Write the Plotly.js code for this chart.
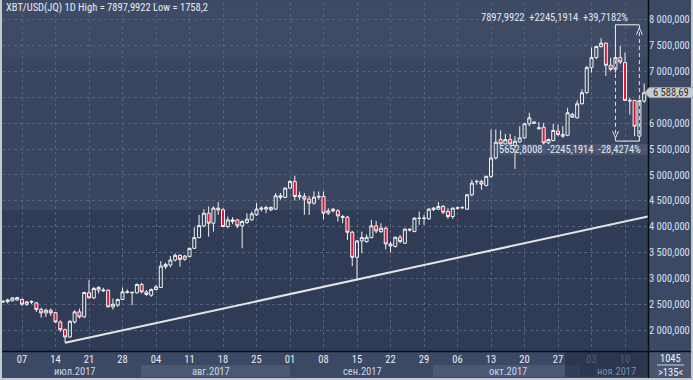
<!DOCTYPE html>
<html><head><meta charset="utf-8">
<script src="https://cdn.plot.ly/plotly-3.0.1.min.js"></script>
<style>html,body{margin:0;padding:0;background:#c4cad2;overflow:hidden}#chart{width:693px;height:380px}</style>
</head><body><div id="chart"></div>
<script>
const dates = [
'2017-07-03','2017-07-04','2017-07-05','2017-07-06','2017-07-07','2017-07-08','2017-07-09','2017-07-10','2017-07-11','2017-07-12','2017-07-13','2017-07-14','2017-07-15','2017-07-16','2017-07-17','2017-07-18','2017-07-19','2017-07-20','2017-07-21','2017-07-22','2017-07-23','2017-07-24','2017-07-25','2017-07-26','2017-07-27','2017-07-28','2017-07-29','2017-07-30','2017-07-31',
'2017-08-01','2017-08-02','2017-08-03','2017-08-04','2017-08-05','2017-08-06','2017-08-07','2017-08-08','2017-08-09','2017-08-10','2017-08-11','2017-08-12','2017-08-13','2017-08-14','2017-08-15','2017-08-16','2017-08-17','2017-08-18','2017-08-19','2017-08-20','2017-08-21','2017-08-22','2017-08-23','2017-08-24','2017-08-25','2017-08-26','2017-08-27','2017-08-28','2017-08-29','2017-08-30','2017-08-31',
'2017-09-01','2017-09-02','2017-09-03','2017-09-04','2017-09-05','2017-09-06','2017-09-07','2017-09-08','2017-09-09','2017-09-10','2017-09-11','2017-09-12','2017-09-13','2017-09-14','2017-09-15','2017-09-16','2017-09-17','2017-09-18','2017-09-19','2017-09-20','2017-09-21','2017-09-22','2017-09-23','2017-09-24','2017-09-25','2017-09-26','2017-09-27','2017-09-28','2017-09-29','2017-09-30',
'2017-10-01','2017-10-02','2017-10-03','2017-10-04','2017-10-05','2017-10-06','2017-10-07','2017-10-08','2017-10-09','2017-10-10','2017-10-11','2017-10-12','2017-10-13','2017-10-14','2017-10-15','2017-10-16','2017-10-17','2017-10-18','2017-10-19','2017-10-20','2017-10-21','2017-10-22','2017-10-23','2017-10-24','2017-10-25','2017-10-26','2017-10-27','2017-10-28','2017-10-29','2017-10-30','2017-10-31',
'2017-11-01','2017-11-02','2017-11-03','2017-11-04','2017-11-05','2017-11-06','2017-11-07','2017-11-08','2017-11-09','2017-11-10','2017-11-11','2017-11-12','2017-11-13','2017-11-14'];

const opens = [
2545,2552,2570,2585,2595,2503,2546,2529,2400,2336,2387,2342,2161,2013,1870,2161,2355,2258,2723,2626,2775,2760,2775,2452,2484,2594,2730,2723,2723,
2885,2742,2678,2788,2826,3227,3259,3356,3447,3369,3421,3582,3789,4015,4261,4067,4358,4326,4003,4100,4132,4016,4080,4132,4229,4339,4339,4371,4339,4565,4565,
4746,4874,4575,4584,4532,4455,4571,4584,4261,4339,4306,4196,4183,3893,3408,3725,3712,3789,4016,3906,3970,3667,3615,3796,3680,3951,3906,4164,4160,4151,
4330,4338,4390,4293,4196,4355,4365,4338,4616,4870,4874,4797,4972,5327,5682,5598,5682,5572,5637,5714,5986,6020,5890,5921,5618,5663,5844,5747,5766,6167,6102,
6373,6587,7071,7265,7478,7543,7116,7039,7265,7168,6438,6438,5747,6425];
const highs = [
2575,2610,2640,2645,2613,2568,2581,2549,2439,2420,2420,2355,2193,2032,2193,2387,2420,2742,2969,2839,2852,2820,2788,2613,2613,2826,2788,2742,2904,
2917,2775,2807,2872,3337,3304,3434,3485,3472,3453,3595,3989,4228,4338,4390,4390,4474,4358,4196,4183,4145,4132,4261,4293,4455,4390,4403,4390,4649,4649,4758,
4900,4985,4680,4649,4597,4680,4680,4680,4358,4358,4339,4229,4209,3919,3744,3906,3850,4132,4113,4067,4003,3712,3809,3841,3970,3970,4183,4293,4229,4358,
4380,4474,4420,4358,4370,4390,4400,4630,4906,4906,4906,4985,5876,5876,5857,5792,5792,5747,5940,6005,6199,6030,6020,6005,5701,5986,5973,5940,6296,6199,6438,
6651,7103,7459,7491,7640,7556,7265,7897.9922,7491,7362,6490,6438,6438,6767];
const lows = [
2530,2520,2560,2575,2471,2471,2503,2355,2245,2258,2277,2142,1967,1758.2,1857,2129,2226,2245,2613,2600,2710,2742,2445,2400,2452,2581,2710,2484,2710,
2710,2665,2646,2775,2820,3182,3214,3324,3227,3343,3408,3569,3776,3989,3808,3905,4228,3990,3970,4048,3970,3583,4054,4113,4209,4293,4261,4300,4326,4520,4552,
4730,4506,4520,4229,4229,4423,4520,4145,4229,4274,4100,4067,3744,3240,2980,3486,3690,3776,3874,3874,3563,3499,3602,3680,3667,3906,3893,4035,4035,4132,
4300,4325,4242,4151,4151,4326,4340,4326,4584,4810,4713,4778,4939,5295,5585,5585,5553,5114,5617,5701,5940,5990,5876,5585,5598,5650,5747,5714,5747,6102,6089,
6360,6567,6974,7233,7459,6910,7006,6974,7136,6425,6167,5747,5652.8008,6392];
const closes = [
2560,2585,2625,2632,2503,2549,2553,2400,2336,2387,2336,2161,2013,1870,2174,2355,2258,2730,2626,2807,2826,2775,2452,2503,2594,2742,2742,2732,2885,
2742,2691,2788,2839,3240,3272,3356,3447,3369,3434,3582,3789,4022,4261,4067,4358,4325,4003,4132,4132,4016,4100,4145,4248,4339,4358,4371,4326,4597,4597,4746,
4874,4583,4600,4532,4455,4571,4584,4261,4306,4306,4209,4180,3893,3408,3725,3790,3796,4016,3919,3970,3667,3628,3796,3712,3951,3938,4164,4160,4164,4339,
4358,4390,4280,4196,4358,4365,4370,4616,4842,4874,4823,4972,5327,5630,5598,5682,5598,5650,5714,5986,6102,6000,5908,5618,5682,5857,5779,5779,6199,6115,6373,
6587,7071,7265,7478,7543,7116,7039,7265,7181,6438,6430,5940,6438,6588.69];

const yTickVals = [2000,2500,3000,3500,4000,4500,5000,5500,6000,6500,7000,7500,8000];
const yTickText = ['2 000,000','2 500,000','3 000,000','3 500,000','4 000,000','4 500,000','5 000,000','5 500,000','6 000,000','','7 000,000','7 500,000','8 000,000'];
const xTickVals = ['2017-07-07','2017-07-14','2017-07-21','2017-07-28','2017-08-04','2017-08-11','2017-08-18','2017-08-25','2017-09-01','2017-09-08','2017-09-15','2017-09-22','2017-09-29','2017-10-06','2017-10-13','2017-10-20','2017-10-27','2017-11-03','2017-11-10'];
const xTickText = ['07','14','21','28','04','11','18','25','01','08','15','22','29','06','13','20','27','03','10'];
const monthLabels = ['июл.2017','авг.2017','сен.2017','окт.2017','ноя.2017'];

const titleText = 'XBT/USD(JQ) 1D High = 7897,9922 Low = 1758,2';
const measureTop = '7897,9922\u00a0\u00a0+2245,1914\u00a0\u00a0+39,7182%';
const measureBot = '5652,8008\u00a0\u00a0-2245,1914\u00a0\u00a0-28,4274%';
const lastPriceText = '6 588,69';
const barCountText = '1045';
const visibleText = '>135<';

const trendIdx = [13, 74];

const FONT = '"Roboto Condensed", "Liberation Sans", Arial, sans-serif';
const FS = 10.5;

const W=693,H=380,ML=2,MR=45,MT=2,MB=29;
const PW=W-ML-MR, PH=H-MT-MB;
const px = x => (x-ML)/PW;
const py = y => 1-(y-MT)/PH;
const Y0=1600, Y1=8338;
const xRange=['2017-07-02 19:42','2017-11-14 19:12'];

const t0 = Date.parse(dates[trendIdx[0]]+'T00:00:00Z'), t1 = Date.parse(dates[trendIdx[1]]+'T00:00:00Z');
const v0 = lows[trendIdx[0]], v1 = lows[trendIdx[1]];
const tEnd = Date.parse(xRange[1].replace(' ','T')+':00Z');
const vEnd = v0 + (v1-v0)*(tEnd-t0)/(t1-t0);
const iso = t => new Date(t).toISOString().replace('T',' ').slice(0,19);

const hiIdx = highs.indexOf(Math.max(...highs));
const loIdx = lows.lastIndexOf(5652.8008);
const last = closes[closes.length-1];
const lastY = MT + PH*(1-(last-Y0)/(Y1-Y0));

const traces = [
 {type:'candlestick', x:dates, open:opens, high:highs, low:lows, close:closes,
  increasing:{line:{color:'#f2f2f2',width:1}, fillcolor:'rgba(0,0,0,0)'},
  decreasing:{line:{color:'#f2f2f2',width:1}, fillcolor:'#e0163c'},
  whiskerwidth:0, hoverinfo:'skip', showlegend:false},
 {type:'scatter', mode:'lines', x:[dates[trendIdx[0]], iso(tEnd)], y:[v0, vEnd],
  line:{color:'#e4e4e4', width:2}, hoverinfo:'skip', showlegend:false}
];

const shapes = [
 {type:'rect', xref:'paper', yref:'paper', x0:0, x1:1, y0:py(57), y1:1, fillcolor:'#3f4b65', line:{width:0}, layer:'below'},
 {type:'rect', xref:'paper', yref:'paper', x0:0, x1:1, y0:py(210), y1:py(57), fillcolor:'#3a4660', line:{width:0}, layer:'below'},
 {type:'rect', xref:'paper', yref:'paper', x0:0, x1:1, y0:0, y1:py(210), fillcolor:'#303c56', line:{width:0}, layer:'below'},
 {type:'rect', xref:'paper', yref:'paper', x0:px(141), x1:px(290), y0:py(377), y1:py(365), fillcolor:'#4a5874', line:{width:0}, layer:'below'},
 {type:'rect', xref:'paper', yref:'paper', x0:px(433), x1:px(580), y0:py(377), y1:py(365), fillcolor:'#4a5874', line:{width:0}, layer:'below'},
 {type:'rect', xref:'paper', yref:'paper', x0:px(649), x1:px(691), y0:py(378), y1:py(352), fillcolor:'#4a566f', line:{width:0}, layer:'below'},
 {type:'line', xref:'x', yref:'y', x0:dates[hiIdx], x1:dates[loIdx], y0:highs[hiIdx], y1:highs[hiIdx], line:{color:'#f0f0f0',width:1}, layer:'above'},
 {type:'line', xref:'x', yref:'y', x0:dates[hiIdx], x1:dates[loIdx], y0:lows[loIdx], y1:lows[loIdx], line:{color:'#f0f0f0',width:1}, layer:'above'},
 {type:'line', xref:'x', yref:'y', x0:dates[loIdx], x1:dates[loIdx], y0:lows[loIdx], y1:highs[hiIdx], line:{color:'#e0e0e0',width:1,dash:'4px,3px'}, layer:'above'},
 {type:'line', xref:'x', yref:'y', x0:dates[hiIdx], x1:dates[hiIdx], y0:highs[hiIdx], y1:lows[loIdx], line:{color:'#e0e0e0',width:1,dash:'4px,3px'}, layer:'above'},
 {type:'path', xref:'x', yref:'y', xsizemode:'pixel', ysizemode:'pixel', xanchor:dates[loIdx], yanchor:highs[hiIdx], path:'M-3,-10 L0,-3 L3,-10', line:{color:'#e0e0e0',width:1}, layer:'above'},
 {type:'path', xref:'x', yref:'y', xsizemode:'pixel', ysizemode:'pixel', xanchor:dates[hiIdx], yanchor:lows[loIdx], path:'M-3,10 L0,3 L3,10', line:{color:'#e0e0e0',width:1}, layer:'above'},
 {type:'rect', xref:'paper', yref:'paper', x0:px(494), x1:1, y0:py(155), y1:py(144), fillcolor:'rgba(110,124,150,0.3)', line:{width:0}, layer:'above'},
 {type:'rect', xref:'paper', yref:'paper', x0:px(565), x1:px(648), y0:py(377), y1:py(352), fillcolor:'rgba(24,32,50,0.45)', line:{width:0}, layer:'above'},
 {type:'line', xref:'paper', yref:'paper', x0:px(648.5), x1:px(648.5), y0:py(378), y1:py(0), line:{color:'#0a0d14',width:1.5}, layer:'above'},
 {type:'line', xref:'paper', yref:'paper', x0:px(0), x1:px(691), y0:py(351.5), y1:py(351.5), line:{color:'#0a0d14',width:1.5}, layer:'above'},
 {type:'line', xref:'paper', yref:'paper', x0:px(657), x1:px(684), y0:py(365), y1:py(365), line:{color:'#c8d0dc',width:1}, layer:'above'},
 {type:'rect', xref:'paper', yref:'paper', x0:px(0), x1:px(2), y0:py(380), y1:py(0), fillcolor:'#c3c9d1', line:{width:0}, layer:'above'},
 {type:'rect', xref:'paper', yref:'paper', x0:px(691), x1:px(693), y0:py(380), y1:py(0), fillcolor:'#c3c9d1', line:{width:0}, layer:'above'},
 {type:'rect', xref:'paper', yref:'paper', x0:px(0), x1:px(693), y0:py(380), y1:py(378), fillcolor:'#c3c9d1', line:{width:0}, layer:'above'},
 {type:'path', xref:'paper', yref:'paper', path:`M ${px(645)} ${py(lastY)} L ${px(649)} ${py(lastY-5)} L ${px(694)} ${py(lastY-5)} L ${px(694)} ${py(lastY+5)} L ${px(649)} ${py(lastY+5)} Z`, fillcolor:'#c9cccf', line:{color:'#9aa0a8',width:1}, layer:'above'}
];

const ann = [
 {xref:'paper', yref:'paper', x:px(4), y:py(8), xanchor:'left', yanchor:'middle', text:titleText, showarrow:false, font:{family:FONT,size:FS,color:'#e6ecf4'}},
 {xref:'paper', yref:'paper', x:px(630), y:py(17), xanchor:'right', yanchor:'middle', text:measureTop, showarrow:false, font:{family:FONT,size:FS,color:'#e2e8f0'}},
 {xref:'paper', yref:'paper', x:px(497), y:py(149.5), xanchor:'left', yanchor:'middle', text:measureBot, showarrow:false, font:{family:FONT,size:FS,color:'#e2e8f0'}},
 {xref:'paper', yref:'paper', x:px(651), y:py(lastY), xanchor:'left', yanchor:'middle', text:lastPriceText, showarrow:false, font:{family:FONT,size:FS,color:'#3a2e22'}},
 {xref:'paper', yref:'paper', x:px(670), y:py(358), xanchor:'center', yanchor:'middle', text:barCountText, showarrow:false, font:{family:FONT,size:FS,color:'#eef2f8'}},
 {xref:'paper', yref:'paper', x:px(670), y:py(372), xanchor:'center', yanchor:'middle', text:visibleText, showarrow:false, font:{family:FONT,size:FS,color:'#eef2f8'}}
];
const monthX = [75, 211, 362, 508, 616];
monthLabels.forEach((m,i)=>ann.push({xref:'paper', yref:'paper', x:px(monthX[i]), y:py(371), xanchor:'center', yanchor:'middle', text:m, showarrow:false, font:{family:FONT,size:FS,color: i===4 ? '#7f8ba2' : '#c9d6e8'}}));

const tickTextStyled = xTickText.map((t,i)=> i>=17 ? `<span style="color:#8792a8">${t}</span>` : t);

const layout = {
 width:W, height:H, margin:{l:ML,r:MR,t:MT,b:MB,pad:0},
 paper_bgcolor:'#3c4964', plot_bgcolor:'rgba(0,0,0,0)',
 showlegend:false, hovermode:false, dragmode:false,
 boxgap:0.37, boxgroupgap:0,
 xaxis:{type:'date', range:xRange, tickvals:xTickVals, ticktext:tickTextStyled, ticks:'', showline:false, zeroline:false,
   showgrid:true, gridcolor:'#55637e', griddash:'3px,3px', gridwidth:1,
   tickfont:{family:FONT,size:FS,color:'#e6ecf4'}, rangeslider:{visible:false}, fixedrange:true},
 yaxis:{range:[Y0,Y1], side:'right', tickvals:yTickVals, ticktext:yTickText, ticks:'', showline:false, zeroline:false,
   showgrid:true, gridcolor:'#55637e', griddash:'3px,3px', gridwidth:1,
   tickfont:{family:FONT,size:FS,color:'#d6e2f2'}, fixedrange:true},
 shapes:shapes, annotations:ann
};
Plotly.newPlot('chart', traces, layout, {staticPlot:true, displayModeBar:false});
</script></body></html>
